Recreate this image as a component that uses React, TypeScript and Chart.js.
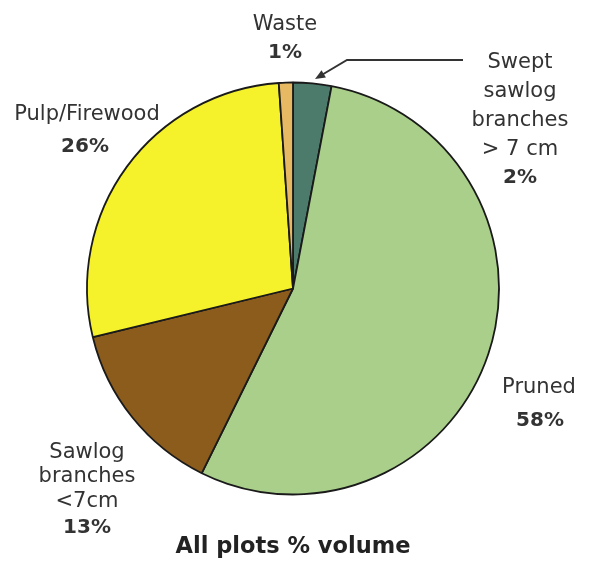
import React, { useEffect, useRef } from "react";
import { Chart, registerables } from "chart.js";

Chart.register(...registerables);

const categories = [
  "Swept sawlog branches > 7 cm",
  "Pruned",
  "Sawlog branches <7cm",
  "Pulp/Firewood",
  "Waste",
];
const sliceValues = [3.0, 54.3, 13.9, 27.7, 1.1];
// printed percentages
const percentLabels = ["2%", "58%", "13%", "26%", "1%"];
const sliceColors = ["#4c7b6c", "#a9cf8b", "#8c5c1d", "#f5f22b", "#e7b962"];
const titleText = "All plots % volume";

const FONT = '"DejaVu Sans", sans-serif';
const TEXT = "#333333";

const labelPlugin = {
  id: "pieLabels",
  afterDraw(chart: any) {
    const ctx = chart.ctx;
    ctx.save();
    ctx.fillStyle = TEXT;
    ctx.textAlign = "center";
    ctx.textBaseline = "alphabetic";
    const norm = `21px ${FONT}`;
    const bold = `bold 20px ${FONT}`;
    const put = (t: string, x: number, y: number, f: string) => {
      ctx.font = f;
      ctx.fillText(t, x, y);
    };
    // Waste
    put("Waste", 285, 30, norm);
    put(percentLabels[4], 285, 58, bold);
    // Swept
    put("Swept", 520, 68, norm);
    put("sawlog", 520, 97, norm);
    put("branches", 520, 126, norm);
    put("> 7 cm", 520, 155, norm);
    put(percentLabels[0], 520, 183, bold);
    // Pulp
    put("Pulp/Firewood", 87, 120, norm);
    put(percentLabels[3], 85, 152, bold);
    // Sawlog
    put("Sawlog", 87, 458, norm);
    put("branches", 87, 482, norm);
    put("<7cm", 87, 507, norm);
    put(percentLabels[2], 87, 533, bold);
    // Pruned
    put("Pruned", 539, 393, norm);
    put(percentLabels[1], 540, 426, bold);
    // Title
    ctx.fillStyle = "#222222";
    put(titleText, 293, 553, `bold 22.5px ${FONT}`);

    // arrow to swept slice
    ctx.strokeStyle = "#333333";
    ctx.lineWidth = 2;
    ctx.beginPath();
    ctx.moveTo(463, 60);
    ctx.lineTo(347, 60);
    ctx.lineTo(320, 76);
    ctx.stroke();
    const tipX = 315, tipY = 79;
    const ang = Math.atan2(tipY - 60, tipX - 347);
    const L = 11, W = 0.4;
    ctx.fillStyle = "#333333";
    ctx.beginPath();
    ctx.moveTo(tipX, tipY);
    ctx.lineTo(tipX - L * Math.cos(ang - W), tipY - L * Math.sin(ang - W));
    ctx.lineTo(tipX - L * Math.cos(ang + W), tipY - L * Math.sin(ang + W));
    ctx.closePath();
    ctx.fill();
    ctx.restore();
  },
};

export default function App() {
  const ref = useRef<HTMLCanvasElement>(null);
  useEffect(() => {
    document.body.style.margin = "0";
    document.body.style.background = "#ffffff";
    const chart = new Chart(ref.current!, {
      type: "pie",
      data: {
        labels: categories,
        datasets: [
          {
            data: sliceValues,
            backgroundColor: sliceColors,
            borderColor: "#1a1a1a",
            borderWidth: 1.8,
            radius: 206,
          } as any,
        ],
      },
      options: {
        responsive: false,
        animation: false,
        layout: { padding: { left: 0, right: 3, top: 14, bottom: 0 } },
        plugins: {
          legend: { display: false },
          tooltip: { enabled: false },
          title: { display: false },
        },
      },
      plugins: [labelPlugin],
    });
    return () => chart.destroy();
  }, []);
  return (
    <canvas
      ref={ref}
      width={589}
      height={563}
      style={{ display: "block", width: 589, height: 563 }}
    />
  );
}
